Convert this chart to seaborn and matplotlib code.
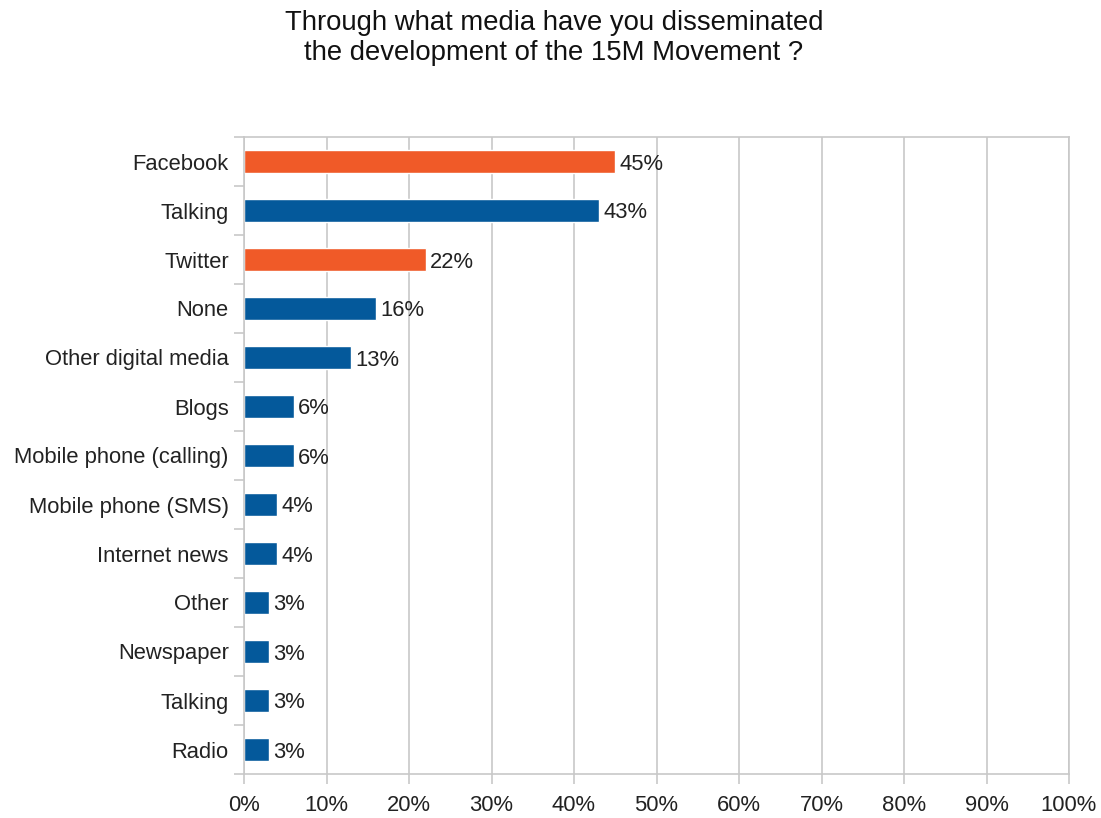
import matplotlib
matplotlib.use("Agg")
import matplotlib.pyplot as plt
import seaborn as sns
import pandas as pd
import numpy as np
from matplotlib.ticker import FixedLocator, PercentFormatter

categories = ["Facebook", "Talking", "Twitter", "None", "Other digital media", "Blogs",
              "Mobile phone (calling)", "Mobile phone (SMS)", "Internet news", "Other",
              "Newspaper", "Talking", "Radio"]
values = [45, 43, 22, 16, 13, 6, 6, 4, 4, 3, 3, 3, 3]
highlight = [True, False, True, False, False, False, False, False, False, False, False, False, False]

ORANGE = "#F05A28"
BLUE = "#04599B"
GRID = "#C8C8C8"

sns.set_theme(style="white")
plt.rcParams["font.family"] = ["Liberation Sans", "DejaVu Sans"]

df = pd.DataFrame({"key": [f"{i}" for i in range(len(categories))],
                   "label": categories, "value": values,
                   "group": ["hl" if h else "base" for h in highlight]})

fig = plt.figure(figsize=(11.01, 8.18), dpi=100)
ax = fig.add_axes([244/1101, 1-774/818, (1069-244)/1101, (774-137)/818])

sns.barplot(data=df, y="key", x="value", hue="group", orient="h",
            palette={"hl": ORANGE, "base": BLUE}, width=0.48, dodge=False,
            legend=False, ax=ax, saturation=1)

ax.set_xlim(0, 100)
ax.set_ylim(len(categories) - 0.5, -0.5)
ax.set_xlabel("")
ax.set_ylabel("")
ax.xaxis.set_major_locator(FixedLocator(np.arange(0, 101, 10)))
ax.xaxis.set_major_formatter(PercentFormatter(decimals=0))
ax.set_yticks(range(len(categories)))
ax.set_yticklabels(categories)
ax.yaxis.set_minor_locator(FixedLocator(np.arange(-0.5, len(categories), 1)))

ax.grid(axis="x", color=GRID, linewidth=1.2)
ax.set_axisbelow(True)
for s in ax.spines.values():
    s.set_color(GRID)
    s.set_linewidth(1.2)

FS = 15.8
ax.tick_params(axis="y", which="major", length=0, pad=11, labelsize=FS, colors="#222222")
ax.tick_params(axis="y", which="minor", left=True, length=7, width=1.2, color=GRID)
ax.tick_params(axis="x", which="major", bottom=True, length=7, width=1.2, color=GRID,
               labelsize=FS, labelcolor="#222222", pad=8)

for i, v in enumerate(values):
    ax.text(v + 0.55, i, f"{v}%", va="center_baseline", ha="left", fontsize=FS, color="#222222")

fig.text(0.503, 0.988, "Through what media have you disseminated\nthe development of the 15M Movement ?",
         ha="center", va="top", fontsize=19.8, color="#111111", linespacing=1.22)

fig.savefig("out.png", dpi=100)
